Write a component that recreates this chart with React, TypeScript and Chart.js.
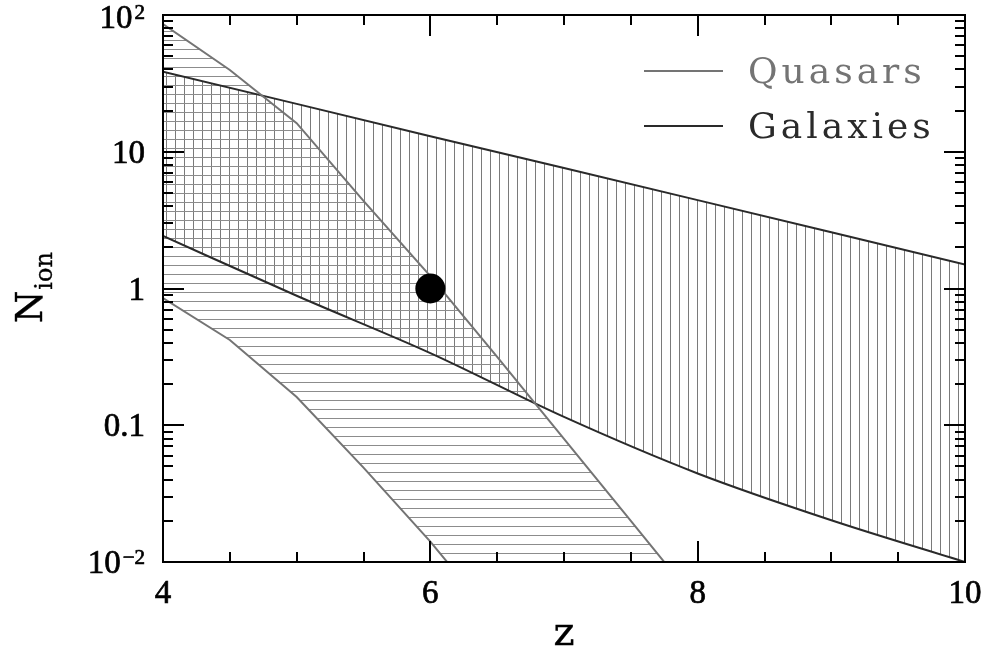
import { useEffect, useRef } from 'react';
import { Chart, registerables } from 'chart.js';

Chart.register(...registerables);

// ---- data ----
const quasarZ = [4, 4.5, 5, 5.5, 6, 6.5, 7, 7.5, 8];
const quasarUpper = [86, 39.6, 16.2, 4.37, 1.23, 0.316, 0.0794, 0.02, 0.005];
const quasarLower = [0.85, 0.42, 0.161, 0.049, 0.0141, 0.0036, 0.0009, 0.0002, 0.00005];

const galaxyZ = [4, 5, 6, 7, 8, 9, 10];
const galaxyUpper = [38.5, 22.4, 13.0, 7.6, 4.43, 2.58, 1.5];
const galaxyLower = [2.42, 0.885, 0.337, 0.115, 0.0444, 0.0202, 0.01];

const markerZ = [6];
const markerN = [1];

const xTickValues = [4, 6, 8, 10];
const xTickLabels = ['4', '6', '8', '10'];
const xMinorTicks = [4.5, 5, 5.5, 6.5, 7, 7.5, 8.5, 9, 9.5];
const yTickValues = [0.01, 0.1, 1, 10, 100];
const yTickLabels = ['10⁻²', '0.1', '1', '10', '10²'];
const seriesLabels = ['Quasars', 'Galaxies'];
const xTitle = 'z';
const yTitle = 'N';
const yTitleSub = 'ion';

const QUASAR_COLOR = '#747474';
const GALAXY_COLOR = '#2a2a2a';

const SUP_MAP: Record<string, string> = { '⁻': '−', '²': '2', '¹': '1', '³': '3', '⁰': '0' };

function makePattern(vertical: boolean, color: string): CanvasPattern | string {
  const c = document.createElement('canvas');
  c.width = 9;
  c.height = 9;
  const g = c.getContext('2d');
  if (!g) return color;
  g.fillStyle = color;
  if (vertical) g.fillRect(4, 0, 1, 9);
  else g.fillRect(0, 4, 9, 1);
  const p = g.createPattern(c, 'repeat');
  return p || color;
}

const decorPlugin = {
  id: 'decor',
  afterDraw(chart: any) {
    const { ctx, chartArea } = chart;
    const { left, right, top, bottom } = chartArea;
    const x = chart.scales.x;
    const y = chart.scales.y;
    ctx.save();
    ctx.strokeStyle = '#000';
    ctx.lineWidth = 2;
    ctx.strokeRect(left, top, right - left, bottom - top);

    const seg = (x1: number, y1: number, x2: number, y2: number) => {
      ctx.beginPath();
      ctx.moveTo(x1, y1);
      ctx.lineTo(x2, y2);
      ctx.stroke();
    };
    // x ticks
    const drawX = (v: number, len: number) => {
      const px = Math.round(x.getPixelForValue(v));
      seg(px, bottom, px, bottom - len);
      seg(px, top, px, top + len);
    };
    xTickValues.forEach((v) => drawX(v, 21));
    xMinorTicks.forEach((v) => drawX(v, 10));
    // y ticks
    const drawY = (v: number, len: number) => {
      const py = Math.round(y.getPixelForValue(v));
      seg(left, py, left + len, py);
      seg(right, py, right - len, py);
    };
    yTickValues.forEach((v) => drawY(v, 21));
    for (let i = 0; i < yTickValues.length - 1; i++) {
      for (let m = 2; m <= 9; m++) drawY(yTickValues[i] * m, 10);
    }

    const text = (s: string, tx: number, ty: number) => {
      ctx.fillText(s, tx, ty);
      ctx.strokeText(s, tx, ty);
    };

    // tick labels
    ctx.fillStyle = '#000';
    ctx.strokeStyle = '#000';
    ctx.lineWidth = 0.7;
    ctx.textBaseline = 'alphabetic';
    ctx.font = '33px "Liberation Serif"';
    ctx.textAlign = 'center';
    xTickValues.forEach((v, i) => {
      text(xTickLabels[i], x.getPixelForValue(v), 603);
    });
    ctx.textAlign = 'left';
    yTickValues.forEach((v, i) => {
      const lab = yTickLabels[i];
      let base = '';
      let sup = '';
      for (const ch of lab) {
        if (SUP_MAP[ch]) sup += SUP_MAP[ch];
        else base += ch;
      }
      const py = y.getPixelForValue(v);
      const baseline = Math.max(py + 11, 28);
      ctx.font = '33px "Liberation Serif"';
      const bw = ctx.measureText(base).width;
      ctx.font = '21px "Liberation Serif"';
      const sw = sup ? ctx.measureText(sup).width + 2 : 0;
      const xr = 145;
      const x0 = xr - bw - sw;
      ctx.font = '33px "Liberation Serif"';
      text(base, x0, baseline);
      if (sup) {
        ctx.font = '21px "Liberation Serif"';
        text(sup, x0 + bw + 2, baseline - 9);
      }
    });

    // axis titles
    ctx.lineWidth = 0.4;
    ctx.font = '40px "DejaVu Serif"';
    ctx.textAlign = 'center';
    text(xTitle, (left + right) / 2, 645);

    ctx.save();
    ctx.translate(42, 323);
    ctx.rotate(-Math.PI / 2);
    ctx.textAlign = 'left';
    ctx.font = '37px "DejaVu Serif"';
    text(yTitle, 0, 0);
    const nw = ctx.measureText(yTitle).width;
    ctx.font = '24px "DejaVu Serif"';
    text(yTitleSub, nw + 1, 10);
    ctx.restore();

    // legend
    const legendColors = [QUASAR_COLOR, GALAXY_COLOR];
    const legendY = [71, 126];
    seriesLabels.forEach((lab, i) => {
      ctx.strokeStyle = legendColors[i];
      ctx.lineWidth = 2;
      seg(644, legendY[i], 723, legendY[i]);
      ctx.fillStyle = legendColors[i];
      ctx.font = '36px "DejaVu Serif"';
      (ctx as any).letterSpacing = '4px';
      ctx.textAlign = 'left';
      ctx.fillText(lab, 748, legendY[i] + 12);
      (ctx as any).letterSpacing = '0px';
    });
    ctx.restore();
  },
};

export default function App() {
  const ref = useRef<HTMLCanvasElement | null>(null);
  useEffect(() => {
    if (!ref.current) return;
    const hPat = makePattern(false, '#8c8c8c');
    const vPat = makePattern(true, '#7a7a7a');
    const pts = (xs: number[], ys: number[]) => xs.map((v, i) => ({ x: v, y: ys[i] }));
    const chart = new Chart(ref.current, {
      type: 'line',
      data: {
        datasets: [
          {
            label: 'point',
            data: pts(markerZ, markerN),
            showLine: false,
            pointRadius: 15,
            pointBackgroundColor: '#000',
            pointBorderColor: '#000',
            pointBorderWidth: 0,
            fill: false,
          },
          {
            label: seriesLabels[0],
            data: pts(quasarZ, quasarUpper),
            borderColor: QUASAR_COLOR,
            borderWidth: 2,
            backgroundColor: hPat as any,
            fill: '+1',
            pointRadius: 0,
            tension: 0,
          },
          {
            label: seriesLabels[0] + ' low',
            data: pts(quasarZ, quasarLower),
            borderColor: QUASAR_COLOR,
            borderWidth: 2,
            fill: false,
            pointRadius: 0,
            tension: 0,
          },
          {
            label: seriesLabels[1],
            data: pts(galaxyZ, galaxyUpper),
            borderColor: GALAXY_COLOR,
            borderWidth: 2,
            backgroundColor: vPat as any,
            fill: '+1',
            pointRadius: 0,
            tension: 0,
          },
          {
            label: seriesLabels[1] + ' low',
            data: pts(galaxyZ, galaxyLower),
            borderColor: GALAXY_COLOR,
            borderWidth: 2,
            fill: false,
            pointRadius: 0,
            cubicInterpolationMode: 'monotone',
          },
        ],
      },
      options: {
        animation: false,
        responsive: false,
        events: [],
        layout: { padding: { left: 163, right: 21, top: 15, bottom: 89 } },
        plugins: {
          legend: { display: false },
          tooltip: { enabled: false },
          filler: { drawTime: 'beforeDatasetsDraw' },
        },
        scales: {
          x: { type: 'linear', min: 4, max: 10, display: false },
          y: { type: 'logarithmic', min: 0.01, max: 100, display: false },
        },
      },
      plugins: [decorPlugin],
    });
    return () => chart.destroy();
  }, []);
  return (
    <div style={{ position: 'absolute', left: 0, top: 0, width: 986, height: 651, background: '#fff' }}>
      <canvas ref={ref} width={986} height={651} />
    </div>
  );
}
